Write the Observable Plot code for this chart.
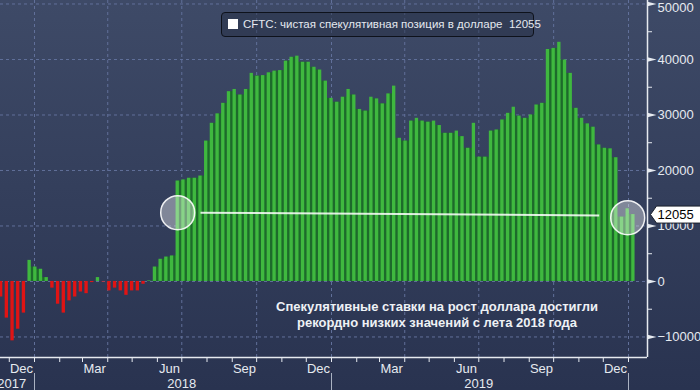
<!DOCTYPE html>
<html><head><meta charset="utf-8">
<script src="https://cdn.jsdelivr.net/npm/d3@7"></script>
<script src="https://cdn.jsdelivr.net/npm/@observablehq/plot@0.6"></script>
<style>
html,body{margin:0;padding:0;background:#2c3652;}
#wrap{position:relative;width:700px;height:390px;overflow:hidden;background:linear-gradient(#3e4a67,#293350);font-family:"Liberation Sans",Arial,sans-serif;}
#chart svg{position:absolute;left:0;top:0;}
#legend{position:absolute;left:221px;top:12px;width:313px;height:25px;box-sizing:border-box;border:1px solid #0e121b;border-radius:4px;background:rgba(35,44,64,0.45);color:#e4e8ef;font-size:11.5px;line-height:23px;padding-left:21px;white-space:nowrap;}
#legend .sw{position:absolute;left:6px;top:6px;width:10px;height:10px;background:#fff;}
#note{position:absolute;left:237px;width:400px;top:299px;text-align:center;color:#eef1f5;font-weight:bold;font-size:13px;line-height:16px;}
</style></head><body>
<div id="wrap"><div id="chart"></div><div id="legend"></div><div id="note"></div></div>
<script>
// ---- data ----
const startDate = "2017-11-21"; // first weekly CFTC report shown
const values = [
  -2800, -6600, -10700, -8600, -5700, 3800, 2600, 2200, 700, -1200,
  -4100, -5700, -3500, -2800, -1900, -2200, -200, 700, -100, -1700,
  -1200, -1700, -2500, -1700, -1700, -500, 100, 2600, 4000, 4400,
  4600,
  18100, 18300, 18600, 18600, 19000, 25300, 28500, 30200, 32100, 34200,
  34600, 33600, 34600, 37500, 37000,
  37100, 37600, 37900, 38000, 39700, 40400, 40600, 39500, 39500, 38600,
  38100, 36100, 33000, 32300, 33200, 34600, 33600, 31000, 30700, 33200,
  32900, 32000, 33800, 35200, 25800, 25300, 28900, 29400, 28900, 28700,
  28900, 28100, 26700, 26700, 27100, 26100, 24000, 28500, 22400, 22400, 27100,
  27300, 29100, 30300, 31400, 29800, 29400, 30000, 31800, 32100, 41800,
  42000, 43100, 39900, 37500, 31200, 29400, 28400, 27800, 24600, 24000,
  23900, 22300, 11600, 13100, 12055
];
const lastValue = 12055;
const legendLabel = "CFTC: чистая спекулятивная позиция в долларе";
const noteLines = ["Спекулятивные ставки на рост доллара достигли", "рекордно низких значений с лета 2018 года"];
const monthLabelDates = ["2017-12-16","2018-03-16","2018-06-16","2018-09-16","2018-12-16","2019-03-16","2019-06-16","2019-09-16","2019-12-16"];
const yearLabelDates = ["2017-12-04","2018-07-01","2019-07-01"];
const yearStarts = ["2018-01-01","2019-01-01","2020-01-01"];
const quarterStarts = ["2018-01-01","2018-04-01","2018-07-01","2018-10-01","2019-01-01","2019-04-01","2019-07-01","2019-10-01","2020-01-01"];
const yMajor = [-10000, 0, 10000, 20000, 30000, 40000];
const yTop = [50000];
const yMinor = [-5000, 5000, 15000, 25000, 35000, 45000];
const highlights = [{date: "2018-06-26", value: 12400}, {date: "2019-12-31", value: 11500}];
const levelLine = [{date: "2018-07-24", value: 12400}, {date: "2019-11-26", value: 11900}];

// ---- build ----
const P = d3.utcParse("%Y-%m-%d");
const start = P(startDate);
const data = values.map((v, i) => ({date: d3.utcDay.offset(start, 7 * i), value: v}));
const gaps = data.slice(0, -1).map((d, i) => ({x1: d.date, x2: data[i + 1].date, value: Math.min(d.value, data[i + 1].value)})).filter(g => g.value > 0);
const monthStarts = d3.utcMonth.range(P("2017-12-01"), P("2020-01-02"));

const xDomain = [new Date(Date.UTC(2017, 10, 20, 5)), new Date(Date.UTC(2020, 0, 24, 8))];
const yDomain = [-13700, 50630];

const GREEN = "#3fb83f", DARK = "#1d6a2b", RED = "#e01414";
const GRID = "#61709a";
const AX = "#e6eaf0";

const flagTick = {draw(ctx) { ctx.moveTo(0, -2.2); ctx.lineTo(9, 0); ctx.lineTo(0, 2.2); ctx.closePath(); }};
const valueFlag = {draw(ctx) { ctx.moveTo(3, 0); ctx.lineTo(9, -8.5); ctx.lineTo(54, -8.5); ctx.lineTo(54, 8.5); ctx.lineTo(9, 8.5); ctx.closePath(); }};

const plot = Plot.plot({
  width: 700, height: 390,
  marginLeft: 0, marginRight: 53, marginTop: 0, marginBottom: 33,
  style: {background: "transparent", color: AX, fontFamily: "'Liberation Sans', Arial, sans-serif", fontSize: "13px"},
  x: {type: "utc", domain: xDomain, axis: null, label: null},
  y: {domain: yDomain, axis: null, label: null},
  marks: [
    Plot.gridX(quarterStarts.map(P), {stroke: GRID, strokeOpacity: 1, strokeDasharray: "3,3"}),
    Plot.gridY(yMajor.concat(yTop), {stroke: GRID, strokeOpacity: 1, strokeDasharray: "3,3"}),
    Plot.rectY(gaps, {x1: "x1", x2: "x2", y: "value", fill: DARK}),
    Plot.rectY(data, {
      x1: d => d3.utcHour.offset(d.date, -49),
      x2: d => d3.utcHour.offset(d.date, 49),
      y: "value",
      fill: d => d.value >= 0 ? GREEN : RED
    }),
    Plot.link(levelLine.slice(0, 1), {
      x1: d => P(d.date), y1: d => d.value,
      x2: () => P(levelLine[1].date), y2: () => levelLine[1].value,
      stroke: "white", strokeWidth: 2, strokeOpacity: 0.85
    }),
    Plot.dot(highlights, {x: d => P(d.date), y: "value", r: 17, fill: "white", fillOpacity: 0.38, stroke: "white", strokeWidth: 1.5, strokeOpacity: 0.9}),
    // axes lines
    Plot.ruleY([yDomain[0]], {stroke: AX, strokeWidth: 1.5}),
    Plot.ruleX([xDomain[1]], {stroke: AX, strokeWidth: 1.5}),
    // y axis (right)
    Plot.axisY(yMinor, {anchor: "right", label: null, tickSize: 4, tickFormat: () => "", stroke: AX}),
    Plot.dot(yMajor.concat(yTop), {y: d => d, frameAnchor: "right", symbol: flagTick, fill: AX, stroke: "none"}),
    Plot.axisY(yMajor, {anchor: "right", label: null, tickSize: 0, tickPadding: 10, tickFormat: d3.format("d"), fill: AX, fontSize: 13}),
    Plot.axisY(yTop, {anchor: "right", label: null, tickSize: 0, tickPadding: 10, dy: 4, tickFormat: d3.format("d"), fill: AX, fontSize: 13}),
    // value flag
    Plot.dot([lastValue], {y: d => d, frameAnchor: "right", symbol: valueFlag, fill: "white", stroke: "#1a1f2b", strokeWidth: 1}),
    Plot.text([lastValue], {y: d => d, frameAnchor: "right", dx: 10, text: d => String(d), textAnchor: "start", fill: "black", fontSize: 13}),
    // x axis (bottom)
    Plot.axisX(monthStarts, {anchor: "bottom", label: null, tickSize: 5, tickFormat: () => "", stroke: AX}),
    Plot.axisX(monthLabelDates.map(P), {anchor: "bottom", label: null, tickSize: 0, tickPadding: 6, tickFormat: d3.utcFormat("%b"), fill: AX, fontSize: 13}),
    Plot.axisX(yearLabelDates.map(P), {anchor: "bottom", label: null, tickSize: 0, tickPadding: 21, tickFormat: d3.utcFormat("%Y"), fill: AX, fontSize: 13}),
    Plot.axisX(yearStarts.map(P), {anchor: "bottom", label: null, tickSize: 17, dy: 16, tickFormat: () => "", stroke: "#aab2c2"})
  ]
});
document.getElementById("chart").append(plot);

const lg = document.getElementById("legend");
lg.innerHTML = '<span class="sw"></span>' + legendLabel + "&nbsp;&nbsp;" + lastValue;
document.getElementById("note").innerHTML = noteLines.join("<br>");
</script>
</body></html>
